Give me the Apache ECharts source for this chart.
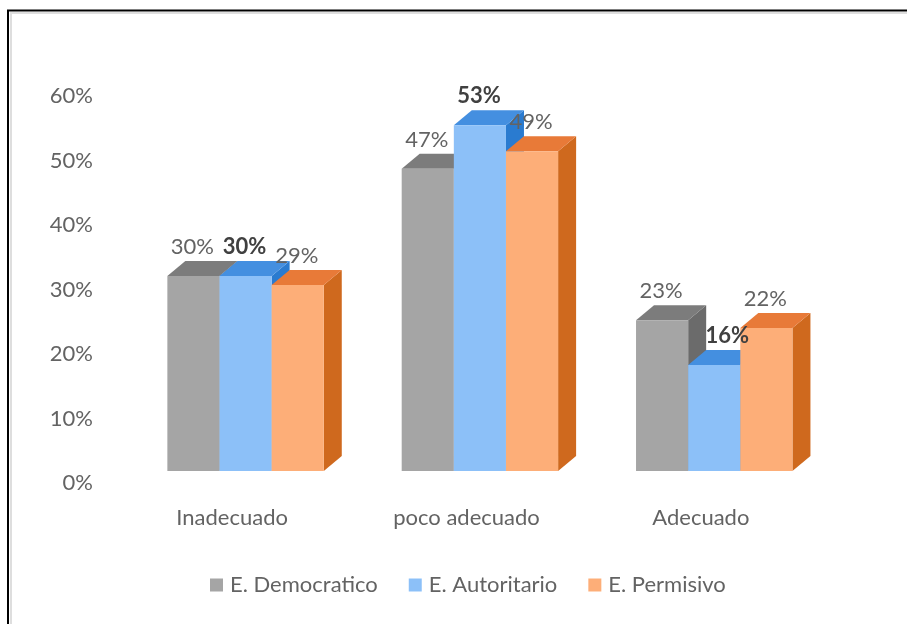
<!DOCTYPE html>
<html>
<head>
<meta charset="utf-8">
<style>html,body{margin:0;padding:0;background:#fff}#c{width:907px;height:624px}</style>
<script src="https://cdn.jsdelivr.net/npm/echarts@6/dist/echarts.min.js"></script>
</head>
<body>
<div id="c"></div>
<script>
const categories = ['Inadecuado', 'poco adecuado', 'Adecuado'];
const yTicks = { min: 0, max: 60, interval: 10 };
const seriesNames = ['E. Democratico', 'E. Autoritario', 'E. Permisivo'];
const democratico = [30.0, 46.5, 23.2];
const autoritario = [30.0, 53.2, 16.3];
const permisivo = [28.6, 49.2, 22.0];

const FONT = 'Lato, "Liberation Sans", sans-serif';
const TEXT = '#636363';
const palettes = [
  { front: '#a5a5a5', top: '#7c7c7c', side: '#6b6b6b' },
  { front: '#8cc0f8', top: '#448fe0', side: '#2a7bd0' },
  { front: '#fdae78', top: '#e87a38', side: '#cf691e' }
];
const DX = 18, DY = -15;

function render(si) {
  return function (params, api) {
    const cat = api.value(0), val = api.value(1);
    const band = api.size([1, 0])[0];
    const w = band * 0.2225;
    const c = api.coord([cat, val]);
    const b = api.coord([cat, 0]);
    const x0 = c[0] + (si - 1.5) * w, x1 = x0 + w, yt = c[1], yb = b[1];
    const p = palettes[si];
    const nudge = (si === 1 && cat === 2) ? 14 : 0;
    return {
      type: 'group',
      children: [
        { type: 'polygon', shape: { points: [[x1, yt], [x1 + DX, yt + DY], [x1 + DX, yb + DY], [x1, yb]] }, style: { fill: p.side } },
        { type: 'polygon', shape: { points: [[x0, yt], [x0 + DX, yt + DY], [x1 + DX, yt + DY], [x1, yt]] }, style: { fill: p.top } },
        { type: 'rect', shape: { x: x0, y: yt, width: w, height: yb - yt }, style: { fill: p.front } },
        { type: 'text', z2: 100, style: {
            text: Math.round(val) + '%', x: (x0 + x1) / 2 + nudge - 1, y: yt - 29,
            align: 'center', verticalAlign: 'middle',
            font: (si === 1 ? 'bold ' : '') + '22px ' + FONT,
            fill: si === 1 ? '#404040' : TEXT
        } }
      ]
    };
  };
}

const values = [democratico, autoritario, permisivo];
const chart = echarts.init(document.getElementById('c'), null, { renderer: 'canvas' });
chart.setOption({
  animation: false,
  backgroundColor: '#fff',
  grid: [
    { left: 115, top: 96, width: 703, height: 387 },
    { left: 128.4, top: 81, width: 703, height: 390 }
  ],
  xAxis: [
    { gridIndex: 0, type: 'category', data: categories, axisLine: { show: false }, axisTick: { show: false },
      axisLabel: { color: TEXT, fontFamily: FONT, fontSize: 22, margin: 24 } },
    { gridIndex: 1, type: 'category', data: categories, show: false }
  ],
  yAxis: [
    { gridIndex: 0, type: 'value', min: yTicks.min, max: yTicks.max, interval: yTicks.interval,
      splitLine: { show: false }, axisLine: { show: false }, axisTick: { show: false },
      axisLabel: { color: TEXT, fontFamily: FONT, fontSize: 22, margin: 22, formatter: '{value}%' } },
    { gridIndex: 1, type: 'value', min: yTicks.min, max: yTicks.max, interval: yTicks.interval, show: false }
  ],
  legend: {
    left: 205, top: 569, itemWidth: 13, itemHeight: 13, itemGap: 31, icon: 'rect',
    data: seriesNames,
    textStyle: { color: TEXT, fontFamily: FONT, fontSize: 22, padding: [0, 0, 0, 2] }
  },
  series: seriesNames.map((name, si) => ({
    type: 'custom', name, xAxisIndex: 1, yAxisIndex: 1, clip: false,
    itemStyle: { color: palettes[si].front },
    renderItem: render(si),
    encode: { x: 0, y: 1 },
    data: values[si].map((v, i) => [i, v])
  })),
  graphic: [
    { type: 'polyline', silent: true, shape: { points: [[11, 624], [11, 13], [907, 13]] }, style: { fill: 'none', stroke: '#dedede', lineWidth: 2 } },
    { type: 'polyline', silent: true, shape: { points: [[8, 624], [8, 10.5], [907, 10.5]] }, style: { fill: 'none', stroke: '#000', lineWidth: 2 } }
  ]
});
</script>
</body>
</html>
